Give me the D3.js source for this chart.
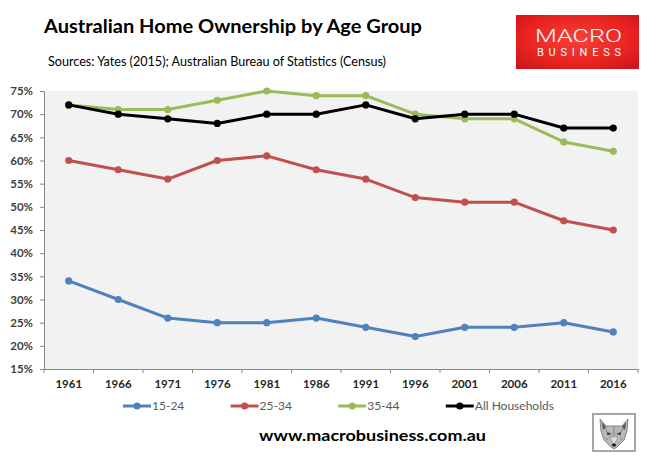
<!DOCTYPE html>
<html>
<head>
<meta charset="utf-8">
<script src="https://cdn.jsdelivr.net/npm/d3@7/dist/d3.min.js"></script>
<style>
  html, body { margin: 0; padding: 0; background: #ffffff; }
  svg { display: block; }
</style>
</head>
<body>
<script>
// ---------------- DATA ----------------
const years = ["1961","1966","1971","1976","1981","1986","1991","1996","2001","2006","2011","2016"];
const age1524 = [34, 30, 26, 25, 25, 26, 24, 22, 24, 24, 25, 23];
const age2534 = [60, 58, 56, 60, 61, 58, 56, 52, 51, 51, 47, 45];
const age3544 = [72, 71, 71, 73, 75, 74, 74, 70, 69, 69, 64, 62];
const allHouseholds = [72, 70, 69, 68, 70, 70, 72, 69, 70, 70, 67, 67];
const seriesNames = ["15-24", "25-34", "35-44", "All Households"];
const yTickValues = [15, 20, 25, 30, 35, 40, 45, 50, 55, 60, 65, 70, 75];
const titleText = "Australian Home Ownership by Age Group";
const sourceText = "Sources: Yates (2015); Australian Bureau of Statistics (Census)";
const urlText = "www.macrobusiness.com.au";

// ---------------- STYLE ----------------
const colors = ["#4F81BD", "#C0504D", "#9BBB59", "#000000"];
const FONT = "Lato, 'Open Sans', 'Liberation Sans', sans-serif";
const W = 649, H = 466;
const P = { left: 44, top: 91, right: 638, bottom: 369 };

const svg = d3.select("body").append("svg")
  .attr("width", W).attr("height", H)
  .attr("viewBox", `0 0 ${W} ${H}`);

const defs = svg.append("defs");
const grad = defs.append("radialGradient").attr("id", "logoGrad")
  .attr("cx", "50%").attr("cy", "45%").attr("r", "75%");
grad.append("stop").attr("offset", "0%").attr("stop-color", "#f8403a");
grad.append("stop").attr("offset", "60%").attr("stop-color", "#e8221f");
grad.append("stop").attr("offset", "100%").attr("stop-color", "#c8121a");

// ---------------- SCALES ----------------
const x = d3.scaleBand().domain(years).range([P.left, P.right]);
const y = d3.scaleLinear().domain([15, 75]).range([P.bottom, P.top]);
const cx = (i) => x(years[i]) + x.bandwidth() / 2;

// ---------------- TITLE / SOURCE ----------------
svg.append("text")
  .attr("x", 44).attr("y", 33)
  .attr("font-family", FONT).attr("font-weight", 700).attr("font-size", 19.5)
  .attr("fill", "#000")
  .attr("textLength", 378).attr("lengthAdjust", "spacingAndGlyphs")
  .text(titleText);

svg.append("text")
  .attr("x", 48).attr("y", 66)
  .attr("font-family", FONT).attr("font-weight", 400).attr("font-size", 12.5)
  .attr("fill", "#000")
  .attr("textLength", 338).attr("lengthAdjust", "spacingAndGlyphs")
  .text(sourceText);

// ---------------- LOGO ----------------
const logo = svg.append("g");
logo.append("rect").attr("x", 516).attr("y", 15).attr("width", 123).attr("height", 54)
  .attr("fill", "url(#logoGrad)");
logo.append("text").attr("x", 578.5).attr("y", 42).attr("text-anchor", "middle")
  .attr("font-family", "Roboto, 'Open Sans', sans-serif").attr("font-weight", 300)
  .attr("font-size", 19).attr("fill", "#ffffff")
  .attr("textLength", 87).attr("lengthAdjust", "spacingAndGlyphs")
  .text("MACRO");
logo.append("text").attr("x", 579).attr("y", 56).attr("text-anchor", "middle")
  .attr("font-family", "Roboto, 'Open Sans', sans-serif").attr("font-weight", 400)
  .attr("font-size", 11).attr("fill", "#ffffff")
  .attr("textLength", 84).attr("lengthAdjust", "spacing")
  .text("BUSINESS");

// ---------------- PLOT AREA ----------------
svg.append("rect")
  .attr("x", P.left).attr("y", P.top)
  .attr("width", P.right - P.left).attr("height", P.bottom - P.top)
  .attr("fill", "#F2F2F2");

// Y axis
const yAxis = svg.append("g")
  .attr("transform", `translate(${P.left},0)`)
  .call(d3.axisLeft(y).tickValues(yTickValues).tickSizeInner(4).tickSizeOuter(0)
    .tickPadding(7).tickFormat(d => d + "%"));
yAxis.select(".domain").attr("stroke", "#868686");
yAxis.selectAll(".tick line").attr("stroke", "#868686");
yAxis.selectAll(".tick text")
  .attr("font-family", FONT).attr("font-weight", 700).attr("font-size", 11.5)
  .attr("fill", "#404040");

// X axis
const xAxis = svg.append("g")
  .attr("transform", `translate(0,${P.bottom})`)
  .call(d3.axisBottom(x).tickSize(0).tickPadding(11));
xAxis.select(".domain").attr("stroke", "#868686");
xAxis.selectAll(".tick text")
  .attr("font-family", FONT).attr("font-weight", 700).attr("font-size", 11.5)
  .attr("fill", "#262626");
// boundary tick marks between categories
const boundaries = years.map(d => x(d)).concat([x(years[years.length - 1]) + x.bandwidth()]);
svg.append("g").selectAll("line").data(boundaries).join("line")
  .attr("x1", d => d).attr("x2", d => d)
  .attr("y1", P.bottom).attr("y2", P.bottom + 4)
  .attr("stroke", "#868686").attr("stroke-width", 1);

// ---------------- SERIES ----------------
const allSeries = [age1524, age2534, age3544, allHouseholds];
const line = d3.line().x((d, i) => cx(i)).y(d => y(d));

allSeries.forEach((vals, si) => {
  const g = svg.append("g");
  g.append("path").datum(vals)
    .attr("d", line)
    .attr("fill", "none")
    .attr("stroke", colors[si])
    .attr("stroke-width", 3)
    .attr("stroke-linejoin", "round")
    .attr("stroke-linecap", "round");
  g.selectAll("circle").data(vals).join("circle")
    .attr("cx", (d, i) => cx(i)).attr("cy", d => y(d))
    .attr("r", 3.6).attr("fill", colors[si]);
});

// ---------------- LEGEND ----------------
const legend = svg.append("g");
seriesNames.forEach((name, i) => {
  const x0 = 123 + i * 107.6;
  const ly = 406;
  legend.append("line").attr("x1", x0).attr("x2", x0 + 28).attr("y1", ly).attr("y2", ly)
    .attr("stroke", colors[i]).attr("stroke-width", 3);
  legend.append("circle").attr("cx", x0 + 14).attr("cy", ly).attr("r", 3.6).attr("fill", colors[i]);
  legend.append("text").attr("x", x0 + 29).attr("y", ly + 4)
    .attr("font-family", FONT).attr("font-size", 12).attr("fill", "#595959")
    .text(name);
});

// ---------------- URL ----------------
svg.append("text")
  .attr("x", 372.5).attr("y", 441).attr("text-anchor", "middle")
  .attr("font-family", FONT).attr("font-weight", 700).attr("font-size", 16)
  .attr("fill", "#000")
  .attr("textLength", 227).attr("lengthAdjust", "spacingAndGlyphs")
  .text(urlText);

// ---------------- WOLF ICON ----------------
const wolf = svg.append("g").attr("transform", "translate(593,414)");
wolf.append("rect").attr("x", 0).attr("y", 0).attr("width", 42).attr("height", 37)
  .attr("fill", "#ffffff").attr("stroke", "#a6a6a6").attr("stroke-width", 2);
// head
wolf.append("path")
  .attr("d", "M7,5 L13,12 L29,12 L35,5 L34,17 L31,26 L24,33 L21,35 L18,33 L11,26 L8,17 Z")
  .attr("fill", "#b8b8b8").attr("stroke", "#6e6e6e").attr("stroke-width", 0.8);
wolf.append("path").attr("d", "M9,8 L13,13 L10,16 Z").attr("fill", "#555");
wolf.append("path").attr("d", "M33,8 L29,13 L32,16 Z").attr("fill", "#555");
wolf.append("path").attr("d", "M14,18 L19,20 L14,21 Z").attr("fill", "#333");
wolf.append("path").attr("d", "M28,18 L23,20 L28,21 Z").attr("fill", "#333");
wolf.append("path").attr("d", "M17,23 L21,31 L25,23 Z").attr("fill", "#e0e0e0").attr("stroke", "#777").attr("stroke-width", 0.5);
wolf.append("ellipse").attr("cx", 21).attr("cy", 31).attr("rx", 2).attr("ry", 1.5).attr("fill", "#111");
wolf.append("path").attr("d", "M12,14 L16,22 M30,14 L26,22 M21,12 L21,22 M15,26 L12,24 M27,26 L30,24")
  .attr("stroke", "#666").attr("stroke-width", 0.6).attr("fill", "none");
</script>
</body>
</html>
